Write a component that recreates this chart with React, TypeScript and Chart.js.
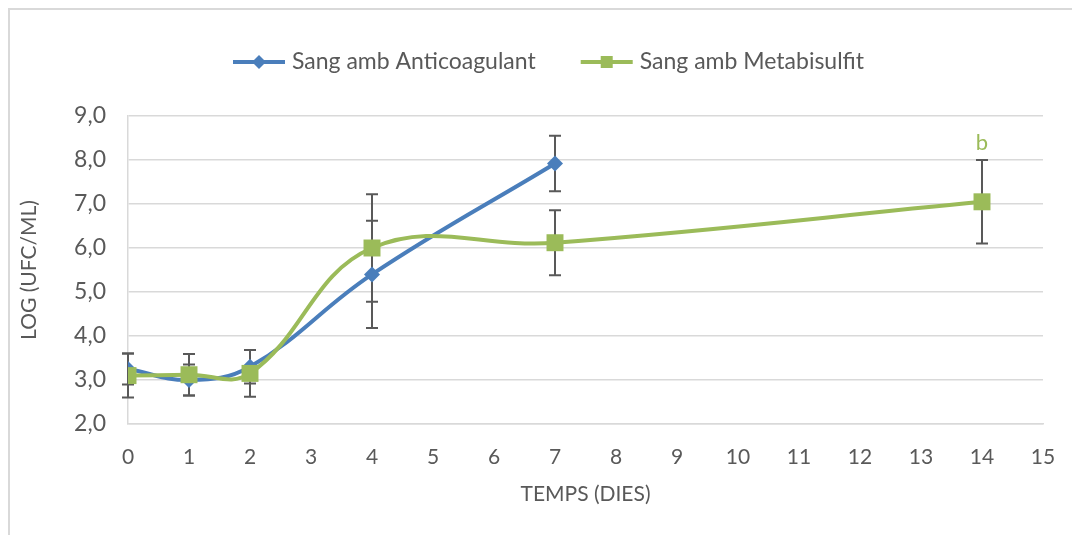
import React, { useEffect, useRef } from 'react';
import { Chart, registerables } from 'chart.js';

Chart.register(...registerables);

// ---- data ----
const seriesNames = ['Sang amb Anticoagulant', 'Sang amb Metabisulfit'];
const anticoagulantDays = [0, 1, 2, 4, 7];
const anticoagulantValues = [3.25, 3.0, 3.3, 5.4, 7.92];
const anticoagulantErrors = [0.35, 0.35, 0.38, 1.22, 0.63];
const metabisulfitDays = [0, 1, 2, 4, 7, 14];
const metabisulfitValues = [3.1, 3.12, 3.15, 6.0, 6.12, 7.05];
const metabisulfitErrors = [0.5, 0.47, 0.53, 1.22, 0.74, 0.95];
const xTicks = [0, 1, 2, 3, 4, 5, 6, 7, 8, 9, 10, 11, 12, 13, 14, 15];
const yTicks = [2, 3, 4, 5, 6, 7, 8, 9];
const xTitle = 'TEMPS (DIES)';
const yTitle = 'LOG (UFC/ML)';
const annotationSeries = 1;
const annotationDay = 14;
const annotationText = 'b';

// ---- style ----
const BLUE = '#4a7ebb';
const GREEN = '#9bbb59';
const TEXT = '#595959';
const GRID = '#d9d9d9';
const ERR = '#595959';
const FONT = 'Lato, "Open Sans", sans-serif';
const W = 1072;
const H = 535;

const frameBorderPlugin = {
  id: 'frameBorder',
  beforeDraw(chart: any) {
    const ctx = chart.ctx;
    ctx.save();
    ctx.fillStyle = '#ffffff';
    ctx.fillRect(0, 0, chart.width, chart.height);
    ctx.strokeStyle = GRID;
    ctx.lineWidth = 2;
    ctx.beginPath();
    ctx.moveTo(9, chart.height);
    ctx.lineTo(9, 9);
    ctx.lineTo(chart.width, 9);
    ctx.stroke();
    ctx.restore();
  },
};

const errorBarPlugin = {
  id: 'errorBars',
  beforeDatasetsDraw(chart: any) {
    const ctx = chart.ctx;
    const y = chart.scales.y;
    ctx.save();
    ctx.strokeStyle = ERR;
    ctx.lineWidth = 2;
    chart.data.datasets.forEach((ds: any, di: number) => {
      const meta = chart.getDatasetMeta(di);
      meta.data.forEach((el: any, i: number) => {
        const v = ds.data[i].y;
        const e = ds.errors[i];
        const top = y.getPixelForValue(v + e);
        const bot = y.getPixelForValue(v - e);
        const x = el.x;
        ctx.beginPath();
        ctx.moveTo(x, top);
        ctx.lineTo(x, bot);
        ctx.moveTo(x - 6, top);
        ctx.lineTo(x + 6, top);
        ctx.moveTo(x - 6, bot);
        ctx.lineTo(x + 6, bot);
        ctx.stroke();
      });
    });
    ctx.restore();
  },
};

const annotationPlugin = {
  id: 'annot',
  afterDatasetsDraw(chart: any) {
    const ds = chart.data.datasets[annotationSeries];
    const idx = ds.data.findIndex((p: any) => p.x === annotationDay);
    if (idx < 0) return;
    const ctx = chart.ctx;
    const x = chart.scales.x.getPixelForValue(annotationDay);
    const yTop = chart.scales.y.getPixelForValue(ds.data[idx].y + ds.errors[idx]);
    ctx.save();
    ctx.fillStyle = GREEN;
    ctx.font = `22px ${FONT}`;
    ctx.textAlign = 'center';
    ctx.textBaseline = 'middle';
    ctx.fillText(annotationText, x, yTop - 17);
    ctx.restore();
  },
};

const legendPlugin = {
  id: 'customLegend',
  afterDraw(chart: any) {
    const ctx = chart.ctx;
    ctx.save();
    ctx.font = `23px ${FONT}`;
    ctx.textBaseline = 'middle';
    ctx.textAlign = 'left';
    const yc = 62;
    let x = 233;
    chart.data.datasets.forEach((ds: any, i: number) => {
      ctx.strokeStyle = ds.borderColor;
      ctx.lineWidth = 4;
      ctx.beginPath();
      ctx.moveTo(x, yc);
      ctx.lineTo(x + 52, yc);
      ctx.stroke();
      const cx = x + 26;
      ctx.fillStyle = ds.pointBackgroundColor;
      ctx.beginPath();
      if (ds.pointStyle === 'rectRot') {
        const r = 7;
        ctx.moveTo(cx, yc - r);
        ctx.lineTo(cx + r, yc);
        ctx.lineTo(cx, yc + r);
        ctx.lineTo(cx - r, yc);
        ctx.closePath();
      } else {
        ctx.rect(cx - 6, yc - 6, 12, 12);
      }
      ctx.fill();
      ctx.fillStyle = TEXT;
      ctx.fillText(seriesNames[i], x + 59, yc);
      const w = ctx.measureText(seriesNames[i]).width;
      x = x + 59 + w + 45;
    });
    ctx.restore();
  },
};

export default function App() {
  const ref = useRef<HTMLCanvasElement | null>(null);
  useEffect(() => {
    if (!ref.current) return;
    const chart = new Chart(ref.current, {
      type: 'line',
      data: {
        datasets: [
          {
            label: seriesNames[0],
            data: anticoagulantDays.map((d, i) => ({ x: d, y: anticoagulantValues[i] })),
            errors: anticoagulantErrors,
            borderColor: BLUE,
            backgroundColor: BLUE,
            pointBackgroundColor: BLUE,
            pointBorderColor: BLUE,
            pointStyle: 'rectRot',
            pointRadius: 8,
            pointBorderWidth: 0,
            borderWidth: 4,
            tension: 0.4,
            order: 1,
          } as any,
          {
            label: seriesNames[1],
            data: metabisulfitDays.map((d, i) => ({ x: d, y: metabisulfitValues[i] })),
            errors: metabisulfitErrors,
            borderColor: GREEN,
            backgroundColor: GREEN,
            pointBackgroundColor: GREEN,
            pointBorderColor: GREEN,
            pointStyle: 'rect',
            pointRadius: 12,
            pointBorderWidth: 0,
            borderWidth: 4,
            tension: 0.4,
            order: 0,
          } as any,
        ],
      },
      options: {
        responsive: false,
        animation: false,
        events: [],
        layout: { padding: { top: 116, right: 29, bottom: 0, left: 0 } },
        plugins: {
          legend: { display: false },
          tooltip: { enabled: false },
        },
        scales: {
          x: {
            type: 'linear',
            min: 0,
            max: 15,
            afterBuildTicks: (s: any) => {
              s.ticks = xTicks.map((v) => ({ value: v }));
            },
            afterFit: (s: any) => {
              s.height = 111;
              s.paddingLeft = 0;
              s.paddingRight = 0;
            },
            grid: { display: false, drawTicks: false },
            border: { display: true, color: GRID, width: 1.5 },
            ticks: {
              padding: 21,
              color: TEXT,
              font: { family: FONT, size: 21 },
              maxRotation: 0,
              autoSkip: false,
            },
            title: {
              display: true,
              text: xTitle,
              color: TEXT,
              font: { family: FONT, size: 21 },
              padding: { top: 0, bottom: 28 },
            },
          },
          y: {
            type: 'linear',
            min: 2,
            max: 9,
            afterBuildTicks: (s: any) => {
              s.ticks = yTicks.map((v) => ({ value: v }));
            },
            afterFit: (s: any) => {
              s.width = 128;
              s.paddingTop = 0;
              s.paddingBottom = 0;
            },
            grid: { color: GRID, lineWidth: 1.5, drawTicks: false },
            border: { display: true, color: GRID, width: 1.5 },
            ticks: {
              padding: 22,
              color: TEXT,
              font: { family: FONT, size: 23 },
              callback: (v: any) => Number(v).toFixed(1).replace('.', ','),
            },
            title: {
              display: true,
              text: yTitle,
              color: TEXT,
              font: { family: FONT, size: 21 },
              padding: { top: 17, bottom: 0 },
            },
          },
        },
      },
      plugins: [frameBorderPlugin, errorBarPlugin, annotationPlugin, legendPlugin],
    });
    return () => chart.destroy();
  }, []);

  return (
    <div
      style={{
        position: 'fixed',
        left: 0,
        top: 0,
        width: W,
        height: H,
        overflow: 'hidden',
        background: '#ffffff',
      }}
    >
      <canvas ref={ref} width={W} height={H} style={{ display: 'block' }} />
    </div>
  );
}
